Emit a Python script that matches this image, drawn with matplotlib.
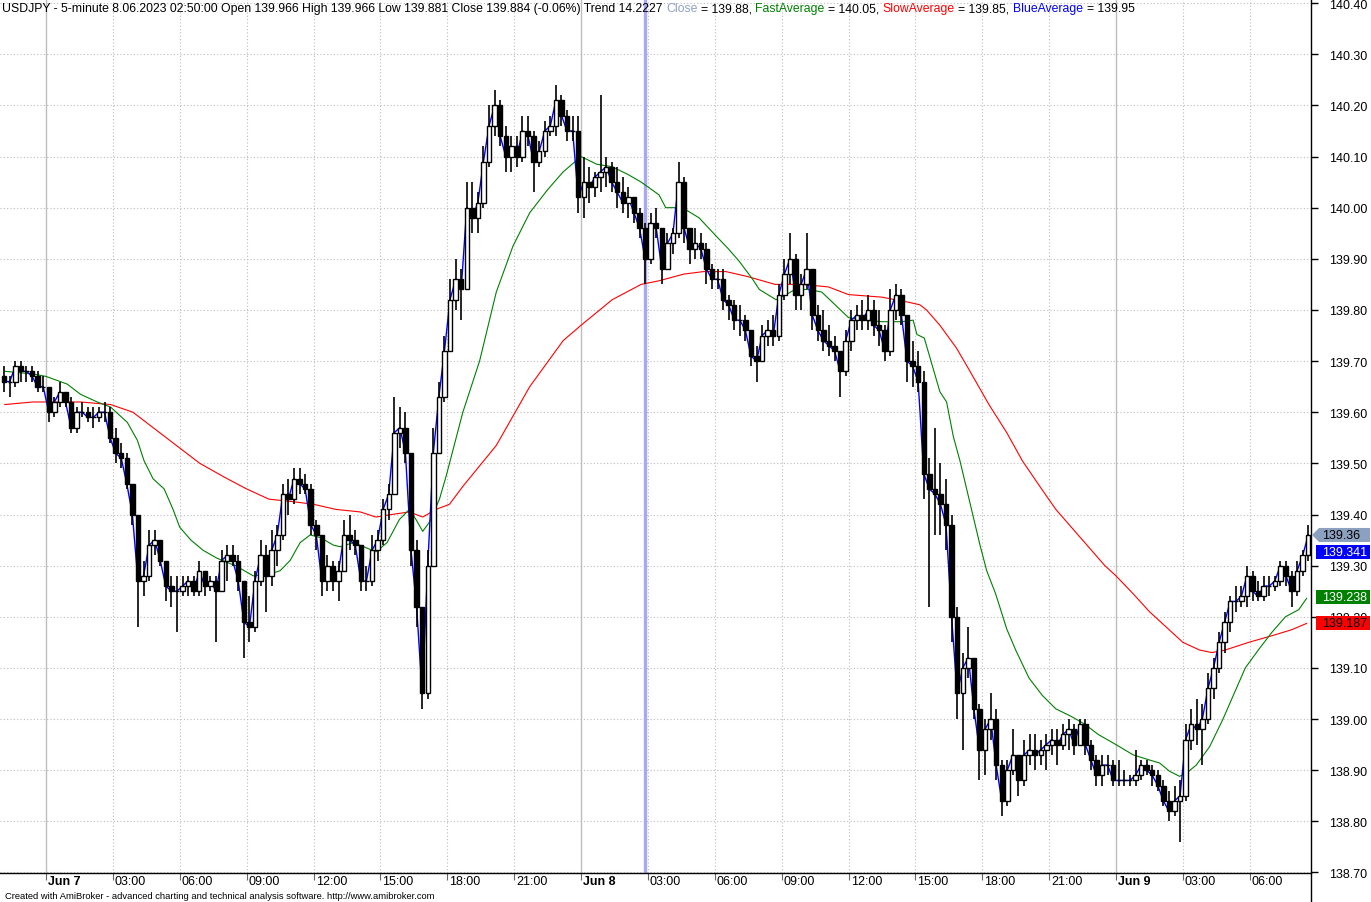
import numpy as np
import matplotlib
matplotlib.use("Agg")
import matplotlib.pyplot as plt
from matplotlib.patches import Polygon
from matplotlib.lines import Line2D
from matplotlib.transforms import IdentityTransform

plt.rcParams['font.family'] = ['Liberation Sans', 'DejaVu Sans']

# USDJPY, 15-minute bars, first bar Jun 6 22:00
# (time in hours from Jun 7 00:00)
first_bar_hour = -2.0
bar_hours = 0.25
first_open = 139.67

high = [
    139.69, 139.67, 139.70, 139.70, 139.69, 139.69, 139.68, 139.67,
    # Jun 7
    139.65, 139.63, 139.66, 139.64, 139.63, 139.61, 139.62, 139.61,
    139.61, 139.61, 139.62, 139.61, 139.57, 139.54, 139.52, 139.46,
    139.38, 139.31, 139.37, 139.37, 139.35, 139.31, 139.28, 139.28,
    139.28, 139.28, 139.28, 139.31, 139.29, 139.28, 139.28, 139.33,
    139.34, 139.34, 139.32, 139.27, 139.24, 139.29, 139.35, 139.34,
    139.37, 139.38, 139.46, 139.47, 139.49, 139.49, 139.48, 139.46,
    139.39, 139.35, 139.32, 139.31, 139.31, 139.39, 139.40, 139.37,
    139.33, 139.30, 139.36, 139.37, 139.43, 139.46, 139.63, 139.61,
    139.60, 139.52, 139.35, 139.22, 139.33, 139.57, 139.66, 139.75,
    139.86, 139.90, 139.88, 140.05, 140.05, 140.03, 140.12, 140.20,
    140.23, 140.21, 140.16, 140.14, 140.14, 140.18, 140.18, 140.15,
    140.13, 140.17, 140.18, 140.24, 140.22, 140.19, 140.18, 140.18,
    # Jun 8
    140.10, 140.08, 140.07, 140.22, 140.10, 140.09, 140.08, 140.06,
    140.04, 140.02, 140.00, 139.97, 139.99, 140.00, 139.96, 139.95,
    139.96, 140.09, 140.06, 139.96, 139.96, 139.95, 139.93, 139.89,
    139.88, 139.88, 139.83, 139.82, 139.81, 139.79, 139.76, 139.73,
    139.77, 139.78, 139.79, 139.85, 139.90, 139.95, 139.91, 139.87,
    139.95, 139.88, 139.81, 139.80, 139.77, 139.75, 139.71, 139.76,
    139.80, 139.81, 139.82, 139.83, 139.82, 139.80, 139.77, 139.84,
    139.85, 139.84, 139.79, 139.74, 139.72, 139.68, 139.51, 139.57,
    139.50, 139.47, 139.40, 139.22, 139.13, 139.18, 139.12, 139.03,
    139.00, 139.05, 139.02, 138.92, 138.92, 138.98, 138.93, 138.96,
    138.97, 138.97, 138.96, 138.97, 138.98, 138.98, 138.99, 139.00,
    138.99, 139.00, 139.00, 138.96, 138.93, 138.93, 138.93, 138.92,
    # Jun 9
    138.92, 138.90, 138.89, 138.94, 138.92, 138.92, 138.91, 138.90,
    138.88, 138.86, 138.87, 138.88, 138.99, 139.02, 139.04, 139.03,
    139.09, 139.12, 139.17, 139.21, 139.24, 139.26, 139.26, 139.30,
    139.29, 139.27, 139.28, 139.28, 139.28, 139.31, 139.31, 139.29,
    139.31, 139.33, 139.38,
]
low = [
    139.64, 139.63, 139.65, 139.66, 139.66, 139.66, 139.64, 139.64,
    # Jun 7
    139.58, 139.59, 139.61, 139.61, 139.56, 139.56, 139.59, 139.58,
    139.57, 139.58, 139.58, 139.54, 139.50, 139.49, 139.45, 139.38,
    139.18, 139.24, 139.27, 139.32, 139.30, 139.23, 139.22, 139.17,
    139.24, 139.24, 139.24, 139.24, 139.24, 139.25, 139.15, 139.25,
    139.27, 139.30, 139.25, 139.12, 139.15, 139.17, 139.26, 139.21,
    139.26, 139.30, 139.35, 139.40, 139.42, 139.44, 139.44, 139.36,
    139.33, 139.24, 139.25, 139.25, 139.23, 139.30, 139.33, 139.32,
    139.25, 139.25, 139.26, 139.31, 139.34, 139.39, 139.44, 139.53,
    139.50, 139.30, 139.18, 139.02, 139.04, 139.30, 139.52, 139.62,
    139.72, 139.80, 139.78, 139.84, 139.95, 139.95, 140.00, 140.08,
    140.14, 140.12, 140.07, 140.07, 140.08, 140.09, 140.12, 140.03,
    140.08, 140.10, 140.14, 140.14, 140.16, 140.13, 140.13, 139.99,
    # Jun 8
    139.98, 140.01, 140.02, 140.03, 140.04, 140.03, 140.00, 139.99,
    139.98, 139.97, 139.94, 139.85, 139.89, 139.94, 139.85, 139.88,
    139.91, 139.94, 139.93, 139.89, 139.90, 139.90, 139.85, 139.84,
    139.84, 139.80, 139.78, 139.76, 139.75, 139.74, 139.69, 139.66,
    139.70, 139.73, 139.73, 139.74, 139.82, 139.85, 139.80, 139.80,
    139.84, 139.76, 139.74, 139.72, 139.71, 139.70, 139.63, 139.67,
    139.72, 139.76, 139.76, 139.76, 139.75, 139.73, 139.70, 139.71,
    139.78, 139.77, 139.66, 139.65, 139.64, 139.43, 139.22, 139.36,
    139.36, 139.33, 139.15, 139.00, 138.94, 139.08, 139.00, 138.88,
    138.89, 138.96, 138.88, 138.81, 138.83, 138.89, 138.85, 138.87,
    138.91, 138.90, 138.91, 138.90, 138.93, 138.91, 138.94, 138.94,
    138.93, 138.95, 138.93, 138.90, 138.87, 138.87, 138.89, 138.87,
    # Jun 9
    138.87, 138.87, 138.87, 138.87, 138.88, 138.89, 138.87, 138.86,
    138.83, 138.80, 138.81, 138.76, 138.84, 138.94, 138.95, 138.91,
    138.99, 139.04, 139.09, 139.13, 139.17, 139.21, 139.22, 139.22,
    139.23, 139.23, 139.23, 139.24, 139.25, 139.26, 139.26, 139.22,
    139.24, 139.28, 139.31,
]
close = [
    139.66, 139.66, 139.69, 139.68, 139.68, 139.67, 139.65, 139.65,
    # Jun 7
    139.60, 139.62, 139.64, 139.62, 139.57, 139.60, 139.60, 139.59,
    139.59, 139.60, 139.60, 139.55, 139.52, 139.51, 139.46, 139.40,
    139.27, 139.28, 139.34, 139.35, 139.31, 139.26, 139.25, 139.25,
    139.26, 139.27, 139.25, 139.29, 139.26, 139.27, 139.25, 139.31,
    139.32, 139.31, 139.27, 139.19, 139.18, 139.27, 139.32, 139.28,
    139.33, 139.36, 139.44, 139.43, 139.47, 139.46, 139.45, 139.38,
    139.36, 139.27, 139.30, 139.27, 139.29, 139.36, 139.35, 139.34,
    139.27, 139.27, 139.33, 139.35, 139.41, 139.44, 139.56, 139.57,
    139.52, 139.33, 139.22, 139.05, 139.30, 139.52, 139.63, 139.72,
    139.82, 139.86, 139.84, 140.00, 139.98, 140.01, 140.09, 140.16,
    140.20, 140.14, 140.10, 140.12, 140.10, 140.15, 140.14, 140.09,
    140.11, 140.15, 140.16, 140.21, 140.18, 140.15, 140.15, 140.02,
    # Jun 8
    140.05, 140.04, 140.06, 140.07, 140.08, 140.05, 140.03, 140.01,
    140.02, 139.99, 139.96, 139.90, 139.97, 139.96, 139.88, 139.93,
    139.95, 140.05, 139.96, 139.92, 139.93, 139.92, 139.88, 139.86,
    139.86, 139.82, 139.81, 139.78, 139.78, 139.76, 139.71, 139.70,
    139.75, 139.76, 139.75, 139.83, 139.87, 139.90, 139.83, 139.85,
    139.88, 139.79, 139.76, 139.74, 139.73, 139.72, 139.68, 139.74,
    139.78, 139.79, 139.78, 139.80, 139.77, 139.76, 139.72, 139.80,
    139.83, 139.79, 139.70, 139.69, 139.66, 139.48, 139.45, 139.44,
    139.42, 139.38, 139.20, 139.05, 139.10, 139.12, 139.02, 138.94,
    138.98, 139.00, 138.91, 138.84, 138.90, 138.93, 138.88, 138.93,
    138.94, 138.93, 138.94, 138.95, 138.96, 138.95, 138.97, 138.98,
    138.95, 138.99, 138.95, 138.92, 138.89, 138.91, 138.91, 138.88,
    # Jun 9
    138.88, 138.88, 138.88, 138.89, 138.91, 138.90, 138.89, 138.87,
    138.84, 138.82, 138.84, 138.85, 138.96, 138.99, 138.98, 139.00,
    139.06, 139.10, 139.15, 139.19, 139.23, 139.23, 139.24, 139.28,
    139.25, 139.24, 139.26, 139.26, 139.27, 139.30, 139.28, 139.25,
    139.29, 139.32, 139.36,
]

# moving averages (hour, value)
fast_hours = [-1.85, -0.6, 0.0, 0.95, 1.55, 2.3, 2.9, 3.65, 4.1, 4.4, 4.8, 5.3,
              5.7, 6.0, 6.5, 7.05, 7.65, 8.2, 8.5, 9.3, 10.0, 10.5, 10.95, 11.4,
              11.85, 12.3, 12.9, 13.2, 13.8, 14.25, 14.8, 15.3, 15.85, 16.3, 16.6,
              16.9, 17.2, 17.65, 17.95, 18.7, 19.45, 20.2, 20.95, 21.7, 22.5, 23.2,
              24.0, 24.7, 25.4, 26.1, 26.7, 27.5, 27.8, 28.55, 29.3, 30.05, 30.6,
              31.1, 31.7, 32.0, 32.75, 33.0, 33.6, 34.2, 34.8, 35.4, 36.0, 36.6,
              37.5, 38.4, 38.9, 39.07, 39.4, 39.7, 40.1, 40.4, 40.7, 41.0, 41.3,
              41.6, 41.9, 42.2, 42.6, 43.1, 43.5, 44.1, 44.7, 45.3, 46.0, 46.6,
              47.2, 48.0, 48.77, 49.5, 49.96, 50.4, 50.85, 51.15, 51.6, 52.2, 52.8,
              53.2, 53.8, 54.4, 55.0, 55.6, 56.2, 56.55]
fast_avg = [139.68, 139.675, 139.67, 139.655, 139.635, 139.62, 139.61, 139.58,
            139.545, 139.505, 139.47, 139.45, 139.41, 139.375, 139.35, 139.33,
            139.315, 139.305, 139.30, 139.28, 139.283, 139.29, 139.31, 139.345,
            139.36, 139.355, 139.34, 139.337, 139.345, 139.337, 139.327, 139.345,
            139.39, 139.41, 139.39, 139.367, 139.385, 139.43, 139.475, 139.60,
            139.70, 139.835, 139.925, 139.99, 140.035, 140.07, 140.10, 140.085,
            140.08, 140.065, 140.05, 140.025, 140.00, 140.00, 139.98, 139.945,
            139.92, 139.895, 139.86, 139.84, 139.82, 139.825, 139.84, 139.84,
            139.835, 139.81, 139.785, 139.78, 139.777, 139.777, 139.78, 139.752,
            139.745, 139.70, 139.64, 139.62, 139.553, 139.505, 139.45, 139.395,
            139.34, 139.29, 139.245, 139.176, 139.135, 139.08, 139.046, 139.02,
            139.005, 138.99, 138.97, 138.95, 138.93, 138.92, 138.914, 138.898,
            138.888, 138.894, 138.91, 138.946, 139.00, 139.04, 139.10, 139.136,
            139.17, 139.20, 139.214, 139.236]

slow_hours = [-1.85, -0.6, 0.0, 1.55, 2.9, 3.9, 4.65, 5.7, 6.9, 8.0, 9.0, 10.0,
              11.1, 12.0, 13.0, 14.1, 14.8, 15.5, 16.3, 16.9, 17.5, 18.1, 18.7,
              20.2, 21.7, 23.2, 24.0, 25.4, 26.7, 27.5, 28.6, 29.5, 30.5, 31.5,
              32.7, 33.9, 35.1, 36.0, 37.5, 38.7, 39.2, 39.5, 40.1, 40.85, 41.45,
              42.3, 43.1, 43.8, 44.55, 45.3, 46.0, 46.8, 47.5, 48.0, 48.77, 49.5,
              50.25, 51.0, 51.75, 52.3, 52.9, 53.95, 55.0, 55.9, 56.55]
slow_avg = [139.615, 139.62, 139.62, 139.62, 139.615, 139.60, 139.575, 139.54,
            139.50, 139.473, 139.45, 139.43, 139.425, 139.42, 139.41, 139.405,
            139.395, 139.40, 139.405, 139.395, 139.41, 139.42, 139.455, 139.535,
            139.65, 139.74, 139.77, 139.82, 139.85, 139.857, 139.87, 139.875,
            139.875, 139.865, 139.85, 139.85, 139.845, 139.83, 139.825, 139.815,
            139.81, 139.80, 139.77, 139.725, 139.68, 139.615, 139.56, 139.505,
            139.457, 139.41, 139.375, 139.335, 139.30, 139.28, 139.245, 139.21,
            139.18, 139.15, 139.135, 139.13, 139.135, 139.15, 139.163, 139.175,
            139.187]

# header readout for the selected bar (Jun 8 02:50)
selected_hour = 26.875
readout = "USDJPY - 5-minute 8.06.2023 02:50:00 Open 139.966 High 139.966 Low 139.881 Close 139.884 (-0.06%) Trend 14.2227"
readout_close, readout_fast, readout_slow, readout_blue = "139.88", "140.05", "139.85", "139.95"

# last values shown on the price axis
last_close, last_blue, last_fast, last_slow = 139.36, 139.341, 139.238, 139.187

day_hours = [0, 24, 48]
day_labels = ["Jun 7", "Jun 8", "Jun 9"]
time_hours = [3, 6, 9, 12, 15, 18, 21, 27, 30, 33, 36, 39, 42, 45, 51, 54]
time_labels = ["03:00", "06:00", "09:00", "12:00", "15:00", "18:00", "21:00",
               "03:00", "06:00", "09:00", "12:00", "15:00", "18:00", "21:00",
               "03:00", "06:00"]

# ---------------------------------------------------------------
W, H = 1371, 903
fig = plt.figure(figsize=(W / 100, H / 100), dpi=100)
fig.patch.set_facecolor("white")
axis_x = 1311
axis_y = 874
ax = fig.add_axes([0, (H - axis_y) / H, axis_x / W, axis_y / H])

px_per_hour = 1070 / 48
ax.set_xlim(-46 / px_per_hour, (axis_x - 46) / px_per_hour)
ax.set_ylim(138.699, 140.408)

n = len(close)
mid = first_bar_hour + bar_hours * (np.arange(n) + 0.5)
opens = np.array([first_open] + close[:-1])
cl = np.array(close)
up = cl >= opens

# grid
for lvl in np.arange(138.7, 140.41, 0.1):
    ax.axhline(lvl, color="#bcbcbc", lw=0.8, ls=(0, (1, 2)), zorder=0)
for h in time_hours:
    ax.axvline(h, color="#bcbcbc", lw=0.8, ls=(0, (1, 2)), zorder=0)
for h in day_hours:
    ax.axvline(h, color="#bdbdbd", lw=1.0, zorder=0)

ax.axvline(selected_hour, color="#a8a8f4", lw=2.4, zorder=1)

ax.plot(slow_hours, slow_avg, color="#ff0000", lw=0.8, zorder=2)
ax.plot(fast_hours, fast_avg, color="#008000", lw=0.8, zorder=2)
ax.plot(mid, cl, color="#0000ff", lw=1.0, zorder=2.5)

# candles
ax.vlines(mid, low, high, color="black", lw=1.2, zorder=3)
body_w = 0.2
ax.bar(mid, np.abs(cl - opens), width=body_w, bottom=np.minimum(cl, opens),
       color=np.where(up, "white", "black"), edgecolor="black", linewidth=1.0,
       zorder=4)

# axes frame
for s in ["top", "left", "right"]:
    ax.spines[s].set_visible(False)
ax.spines["bottom"].set_linewidth(1.0)
fig.add_artist(Line2D([axis_x / W, axis_x / W], [0, 1], color="black", lw=1.0))

# price axis on the right
ax.yaxis.tick_right()
ax.set_yticks(np.round(np.arange(138.7, 140.41, 0.1), 2))
ax.set_yticklabels([f"{v:.2f}" for v in np.arange(138.7, 140.41, 0.1)])
ax.tick_params(axis="y", direction="out", length=5, width=1, pad=8, labelsize=9)

# time axis
ax.set_xticks(day_hours + time_hours)
ax.set_xticklabels([])
ax.tick_params(axis="x", direction="out", length=5, width=0.8, color="#666666")
for h, lab in zip(day_hours, day_labels):
    ax.annotate(lab, xy=(h, 0), xycoords=("data", "axes fraction"), xytext=(1.5, -1.5),
                textcoords="offset points", ha="left", va="top", fontsize=9,
                fontweight="bold", annotation_clip=False)
for h, lab in zip(time_hours, time_labels):
    ax.annotate(lab, xy=(h, 0), xycoords=("data", "axes fraction"), xytext=(1.5, -1.5),
                textcoords="offset points", ha="left", va="top", fontsize=9,
                annotation_clip=False)

fig.text(5 / W, 1 - 897 / H, "Created with AmiBroker - advanced charting and technical "
         "analysis software. http://www.amibroker.com", fontsize=6.75, va="center",
         ha="left")

# header readout, several colours in one line
pieces = [(readout, "black"), ("Close", "#8ca0c8"), ("= " + readout_close + ",", "black"),
          ("FastAverage", "#008000"), ("= " + readout_fast + ",", "black"),
          ("SlowAverage", "#ff0000"), ("= " + readout_slow + ",", "black"),
          ("BlueAverage", "#0000ff"), ("= " + readout_blue, "black")]
prev = fig.text(2 / W, 1 - 9 / H, pieces[0][0], color=pieces[0][1], fontsize=8.8,
                va="center", ha="left")
for txt, col in pieces[1:]:
    prev = ax.annotate(txt, xy=(1, 0), xycoords=prev, xytext=(2.5, 0),
                       textcoords="offset points", va="bottom", ha="left",
                       color=col, fontsize=8.8, annotation_clip=False)

# price tags on the right axis
fig.canvas.draw()


def ypx(v):
    return ax.transData.transform((0, v))[1]


def tag(v, text, fc, tc, shift=0, arrow=False):
    y = ypx(v) - shift
    hh = 7
    if arrow:
        pts = [(axis_x + 1, y), (axis_x + 8, y + hh), (1370, y + hh), (1370, y - hh),
               (axis_x + 8, y - hh)]
    else:
        pts = [(axis_x + 5, y + hh), (1370, y + hh), (1370, y - hh),
               (axis_x + 5, y - hh)]
    fig.add_artist(Polygon(pts, closed=True, facecolor=fc, edgecolor="none",
                           transform=IdentityTransform(), zorder=5))
    fig.text((axis_x + 11) / W, y / H, text, color=tc, fontsize=9, va="center",
             ha="left", zorder=6)


tag(last_close, f"{last_close:.2f}", "#8ca0c0", "black", arrow=True)
tag(last_blue, f"{last_blue:.3f}", "#0000ff", "white", shift=7)
tag(last_fast, f"{last_fast:.3f}", "#008000", "white")
tag(last_slow, f"{last_slow:.3f}", "#ff0000", "black")

fig.savefig("out.png", dpi=100, facecolor="white")
